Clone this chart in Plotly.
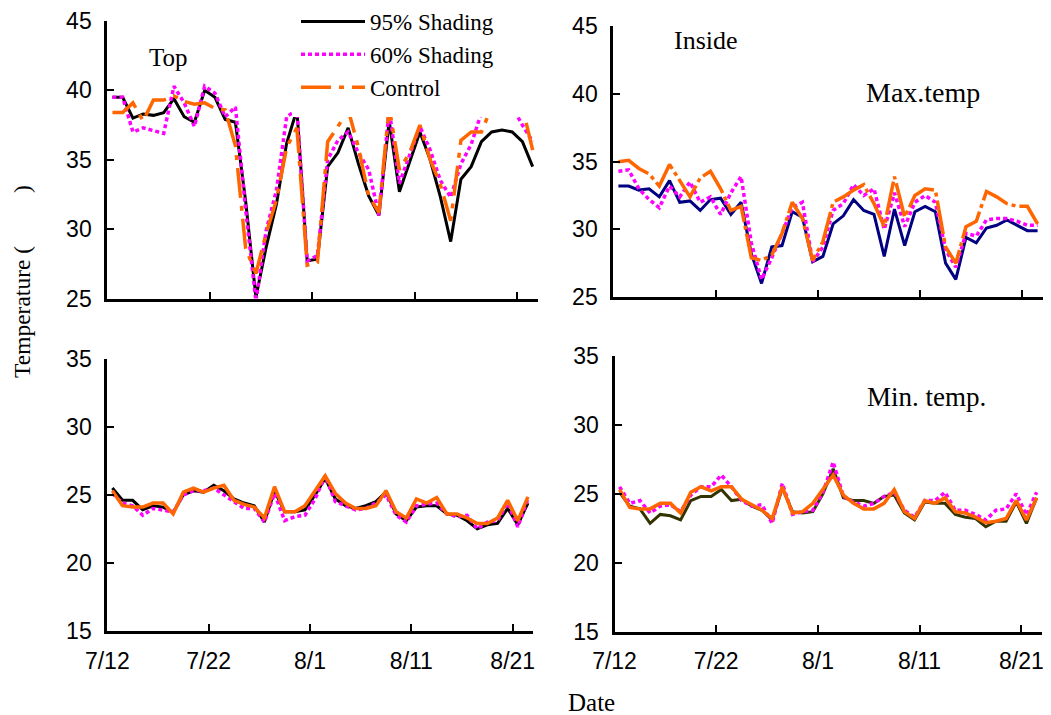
import plotly.graph_objects as go

# ---------------- data ----------------
dates = ["7/12","7/13","7/14","7/15","7/16","7/17","7/18","7/19","7/20","7/21",
         "7/22","7/23","7/24","7/25","7/26","7/27","7/28","7/29","7/30","7/31",
         "8/1","8/2","8/3","8/4","8/5","8/6","8/7","8/8","8/9","8/10",
         "8/11","8/12","8/13","8/14","8/15","8/16","8/17","8/18","8/19","8/20",
         "8/21","8/22"]
tick_labels = ["7/12", "7/22", "8/1", "8/11", "8/21"]
tick_index = [0, 10, 20, 30, 40]

series_names = ["95% Shading", "60% Shading", "Control"]

# Top (outside) max temperature
top_95 = [39.5,39.5,38.0,38.3,38.2,38.4,39.4,38.1,37.7,40.0,
          39.5,37.9,37.7,32.0,25.1,28.7,31.8,36.2,38.6,27.7,
          27.85,34.5,35.5,37.3,34.7,32.4,31.0,37.8,32.7,34.9,
          37.0,35.0,32.3,29.1,33.6,34.5,36.3,37.0,37.15,37.0,
          36.3,34.5]
top_60 = [39.5,39.5,37.0,37.3,37.1,36.9,40.3,39.1,37.4,40.3,
          39.8,38.1,38.8,31.4,24.8,29.9,32.8,38.1,38.6,27.7,
          28.1,35.0,36.4,37.0,35.5,34.3,31.0,38.6,33.3,35.3,
          37.4,35.7,33.5,32.3,34.7,36.1,38.4,38.8,38.8,38.8,
          37.5,36.3]
top_ctrl = [38.4,38.4,39.1,37.8,39.3,39.3,39.6,39.2,39.0,39.1,
            38.7,38.6,36.0,28.6,26.8,29.7,32.1,35.9,37.3,27.4,
            27.6,36.3,37.4,38.6,35.9,32.4,31.2,38.8,34.3,35.5,
            37.5,35.0,33.2,30.6,36.4,37.0,37.0,38.8,38.8,38.8,
            38.8,35.7]

# Inside max temperature
in_max_95 = [33.2,33.2,32.9,33.0,32.4,33.6,32.0,32.1,31.4,32.2,
             32.3,31.1,32.0,28.2,26.0,28.7,28.8,31.3,30.9,27.6,
             28.0,30.4,31.0,32.2,31.4,31.1,28.0,31.5,28.8,31.3,
             31.7,31.3,27.5,26.3,29.4,29.0,30.1,30.3,30.7,30.3,
             29.9,29.9]
in_max_60 = [34.3,34.4,33.0,32.2,31.6,33.2,32.4,33.5,32.0,32.4,
             31.1,32.7,33.9,29.0,26.3,27.9,29.7,31.6,32.0,27.6,
             28.7,31.4,31.9,33.3,32.5,33.0,30.0,32.7,30.2,32.0,
             32.5,32.0,28.5,27.2,29.7,29.5,30.7,30.8,30.8,30.6,
             30.3,30.3]
in_max_ctrl = [35.0,35.1,34.5,34.1,33.2,34.8,33.6,32.4,33.8,34.3,
               33.0,31.4,31.7,27.9,27.7,28.1,29.7,32.0,30.8,27.7,
               29.1,32.0,32.4,32.9,33.3,31.9,30.2,33.9,30.9,32.5,
               33.0,32.9,28.7,27.5,30.2,30.6,32.8,32.4,31.9,31.7,
               31.7,30.4]

# Top min temperature
top_min_95 = [25.5,24.6,24.6,23.9,24.2,24.1,23.7,25.0,25.3,25.2,
              25.7,25.3,24.7,24.4,24.2,23.0,25.3,23.75,23.75,23.9,
              25.0,26.2,24.7,24.2,24.0,24.2,24.5,25.2,23.6,23.1,
              24.1,24.2,24.2,23.6,23.5,23.1,22.5,22.8,22.9,24.0,
              22.8,24.4]
top_min_60 = [25.1,24.4,24.2,23.5,24.0,23.9,23.75,25.0,25.3,25.3,
              25.5,25.0,24.5,24.0,24.0,23.0,25.1,23.1,23.4,23.5,
              24.7,26.4,24.5,24.2,23.9,24.0,24.4,25.0,23.5,23.0,
              24.2,24.3,24.4,23.6,23.4,23.5,22.5,23.0,23.1,24.4,
              22.65,24.7]
top_min_ctrl = [25.3,24.2,24.1,24.1,24.4,24.4,23.6,25.2,25.5,25.2,
                25.5,25.7,24.6,24.3,24.1,23.3,25.6,23.75,23.75,24.2,
                25.3,26.4,25.1,24.4,24.0,24.0,24.2,25.3,23.75,23.3,
                24.7,24.4,24.8,23.6,23.6,23.3,22.9,22.9,23.3,24.6,
                23.1,24.85]

# Inside min temperature
in_min_95 = [25.1,24.1,23.9,22.85,23.5,23.4,23.1,24.5,24.8,24.8,
             25.3,24.5,24.6,24.1,23.8,23.1,25.4,23.7,23.6,23.7,
             25.0,26.8,24.7,24.5,24.5,24.3,24.8,24.9,23.6,23.1,
             24.4,24.3,24.3,23.5,23.3,23.2,22.6,23.0,23.0,24.4,
             22.85,24.7]
in_min_60 = [25.5,24.3,24.5,23.6,24.1,24.2,23.7,24.9,25.5,25.5,
             26.35,25.5,24.5,24.1,24.2,22.85,25.75,23.5,23.7,23.8,
             25.1,27.3,24.8,24.4,24.1,24.3,24.8,25.1,23.8,23.3,
             24.5,24.5,25.1,23.8,23.8,23.5,23.1,23.8,23.9,25.0,
             23.45,25.1]
in_min_ctrl = [25.3,24.0,23.9,23.9,24.3,24.3,23.6,25.1,25.5,25.2,
               25.5,25.5,24.6,24.2,23.8,23.2,25.5,23.6,23.7,24.3,
               25.3,26.35,24.9,24.3,23.9,23.9,24.3,25.3,23.7,23.2,
               24.5,24.3,24.7,23.7,23.6,23.3,22.9,23.0,23.2,24.5,
               23.1,24.7]

# ---------------- figure ----------------
OFF = 8                      # page body margin of the html page
W, H = 1051 - OFF, 715 - OFF
SERIF = "Liberation Serif, Times New Roman, serif"
SANS = "Liberation Sans, Arial, sans-serif"

ORANGE = "#FF6600"
MAGENTA = "#FF00FF"

# category positions (points sit in the middle of each day's slot)
xpos = [i + 0.5 for i in range(len(dates))]

fig = go.Figure()

panels = [
    # (xaxis id, yaxis id, [95, 60, ctrl], 95-colour, control dash)
    ("x", "y", [top_95, top_60, top_ctrl], "#000000", "30px,8px,5px,8px"),
    ("x2", "y2", [in_max_95, in_max_60, in_max_ctrl], "#000080", "34px,4px,4px,4px"),
    ("x3", "y3", [top_min_95, top_min_60, top_min_ctrl], "#000000", "solid"),
    ("x4", "y4", [in_min_95, in_min_60, in_min_ctrl], "#333300", "solid"),
]

for pi, (xa, ya, vals, c95, cdash) in enumerate(panels):
    styles = [
        dict(color=c95, width=3, dash="solid"),
        dict(color=MAGENTA, width=3.5, dash="4px,3px"),
        dict(color=ORANGE, width=3.5, dash=cdash),
    ]
    for si in range(3):
        fig.add_trace(go.Scatter(
            x=xpos, y=vals[si], mode="lines",
            name=series_names[si], legendgroup=series_names[si],
            showlegend=(pi == 0),
            line=styles[si], xaxis=xa, yaxis=ya,
            customdata=dates, hovertemplate="%{customdata}: %{y}<extra>" + series_names[si] + "</extra>",
        ))

def px_x(v):
    return (v - OFF) / W

def px_y(v):
    return 1 - (v - OFF) / H

axis_common = dict(
    showline=True, linecolor="black", linewidth=3,
    ticks="inside", ticklen=7, tickwidth=1.5, tickcolor="black",
    showgrid=False, zeroline=False, mirror=False, automargin=False,
)

xa_common = dict(axis_common, range=[0, 42], tickmode="array",
                 tickvals=tick_index, ticktext=tick_labels,
                 tickfont=dict(family=SANS, size=23, color="black"),
                 ticklabelstandoff=7)
ya_common = dict(axis_common, dtick=5, tick0=0,
                 tickfont=dict(family=SANS, size=23, color="black"),
                 ticklabelstandoff=8)

def ann(text, x, y, size, angle=0):
    return dict(text=text, x=px_x(x), y=px_y(y), xref="paper", yref="paper",
                xanchor="center", yanchor="middle", showarrow=False, textangle=angle,
                font=dict(family=SERIF, size=size, color="black"))

fig.update_layout(
    width=W, height=H,
    margin=dict(l=0, r=0, t=0, b=0, autoexpand=False),
    paper_bgcolor="white", plot_bgcolor="white",
    xaxis=dict(xa_common, domain=[px_x(107.3), px_x(537.8)], anchor="y", showticklabels=False),
    yaxis=dict(ya_common, domain=[px_y(298.5), px_y(21)], range=[25, 45], anchor="x"),
    xaxis2=dict(xa_common, domain=[px_x(613.3), px_x(1042.7)], anchor="y2", showticklabels=False),
    yaxis2=dict(ya_common, domain=[px_y(297), px_y(26.4)], range=[25, 45], anchor="x2"),
    xaxis3=dict(xa_common, domain=[px_x(107.3), px_x(533)], anchor="y3"),
    yaxis3=dict(ya_common, domain=[px_y(631), px_y(358.7)], range=[15, 35], anchor="x3"),
    xaxis4=dict(xa_common, domain=[px_x(614.5), px_x(1041.7)], anchor="y4"),
    yaxis4=dict(ya_common, domain=[px_y(631.7), px_y(355.7)], range=[15, 35], anchor="x4"),
    legend=dict(
        x=px_x(296), y=px_y(0), xanchor="left", yanchor="top",
        bgcolor="rgba(0,0,0,0)", borderwidth=0,
        font=dict(family=SERIF, size=23, color="black"),
        tracegroupgap=0, itemwidth=64,
    ),
    shapes=[
        # white legend box that hides the lines beneath the legend
        dict(type="rect", xref="paper", yref="paper",
             x0=px_x(292), x1=px_x(537), y0=px_y(117), y1=px_y(8),
             fillcolor="white", line=dict(width=0), layer="above"),
    ],
    annotations=[
        ann("Top", 168, 57, 25),
        ann("Inside", 706, 40, 26),
        ann("Max.temp", 923, 92, 28),
        ann("Min. temp.", 926, 397, 27),
        ann("Temperature (" + "\u00a0" * 9 + ")", 22, 282, 23.5, -90),
        ann("Date", 591, 702, 25),
    ],
)

fig.write_html("out.html")
